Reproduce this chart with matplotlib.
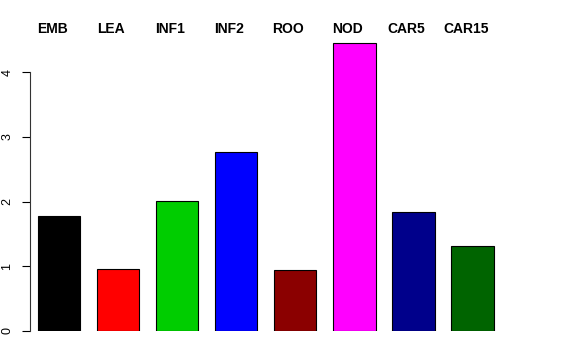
import numpy as np
from matplotlib import pyplot as plt

tissues = ['EMB', 'LEA', 'INF1', 'INF2', 'ROO', 'NOD', 'CAR5', 'CAR15']
values = [1.77, 0.96, 2.01, 2.77, 0.94, 4.45, 1.84, 1.31]
colors = ['black', 'red', '#00CD00', 'blue', '#8B0000', 'magenta', '#00008B', '#006400']

plt.rcParams['font.family'] = ['Liberation Sans', 'DejaVu Sans']

fig = plt.figure(figsize=(5.76, 3.6), dpi=100)
# axes placed in pixel terms to match the R barplot layout
ax = fig.add_axes([30 / 576, 29 / 360, 516 / 576, 4.5 * 64.75 / 360])

x = 0.9 + 1.4 * np.arange(len(values))
ax.bar(x, values, width=1.0, color=colors, edgecolor='black', linewidth=0.8)

ax.set_xlim(0.21, 12.44)
ax.set_ylim(0, 4.5)
for side in ['top', 'right', 'bottom']:
    ax.spines[side].set_visible(False)
ax.spines['left'].set_bounds(0, 4)
ax.spines['left'].set_color('#333333')
ax.set_xticks([])
ax.set_yticks([0, 1, 2, 3, 4])
ax.tick_params(axis='y', direction='out', length=6, labelsize=9, pad=6)
for lab in ax.get_yticklabels():
    lab.set_rotation(90)
    lab.set_va('center')

for xi, name in zip(x, tissues):
    ax.annotate(name, (xi, 4.66), xytext=(-5, 0), textcoords='offset points',
                ha='center', va='center', fontsize=10, fontweight='bold',
                annotation_clip=False)

plt.savefig('out.png', dpi=100)
